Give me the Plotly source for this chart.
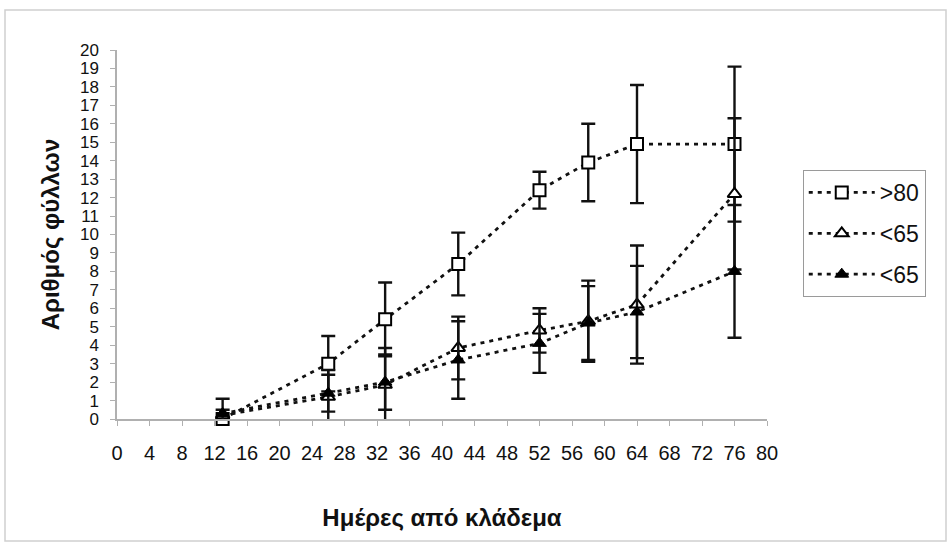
import plotly.graph_objects as go

days = [13, 26, 33, 42, 52, 58, 64, 76]

names = [">80", "<65", "<65"]

sq_y = [0.0, 3.0, 5.4, 8.4, 12.4, 13.9, 14.9, 14.9]
sq_err = [0.0, 1.5, 2.0, 1.7, 1.0, 2.1, 3.2, 4.2]

open_tri_y = [0.2, 1.2, 1.85, 3.85, 4.8, 5.3, 6.2, 12.2]
open_tri_err = [0.3, 1.45, 2.0, 1.7, 1.2, 2.2, 3.2, 4.1]

fill_tri_y = [0.3, 1.4, 2.0, 3.2, 4.1, 5.2, 5.8, 8.0]
fill_tri_err = [0.8, 1.0, 1.5, 2.1, 1.6, 2.0, 2.5, 3.6]

x_ticks = list(range(0, 81, 4))
y_ticks = list(range(0, 21, 1))

font_family = "Liberation Sans, Arial, sans-serif"
dash = "4px,5px"

series = [
    (names[0], sq_y, sq_err, dict(symbol="square", size=12, color="white",
                                  line=dict(color="black", width=2))),
    (names[1], open_tri_y, open_tri_err, dict(symbol="triangle-up", size=12, color="white",
                                              line=dict(color="black", width=2))),
    (names[2], fill_tri_y, fill_tri_err, dict(symbol="triangle-up", size=12, color="black",
                                              line=dict(color="black", width=1))),
]

fig = go.Figure()
for i, (nm, ys, errs, mk) in enumerate(series):
    fig.add_trace(go.Scatter(
        x=days, y=ys, name=nm, mode="lines+markers",
        line=dict(color="#111111", width=2.8, dash=dash),
        marker=mk,
        error_y=dict(type="data", array=errs, visible=True, color="#111111",
                     thickness=2.4, width=7),
        legendgroup=f"g{i}",
        cliponaxis=False,
    ))

fig.update_layout(
    width=948, height=543,
    margin=dict(l=117, r=181, t=50, b=124),
    paper_bgcolor="white", plot_bgcolor="white",
    font=dict(family=font_family, color="#111111", size=18),
    showlegend=True,
    legend=dict(
        x=1.055, xanchor="left", y=0.675, yanchor="top",
        bordercolor="#9a9a9a", borderwidth=1,
        font=dict(size=23, family=font_family, color="#111111"),
        tracegroupgap=8, itemwidth=66,
        bgcolor="white",
    ),
    xaxis=dict(
        range=[0, 80], tickmode="array", tickvals=x_ticks,
        ticktext=[str(v) for v in x_ticks],
        showgrid=False, zeroline=False,
        showline=True, linecolor="#b0b0b0", linewidth=1.5,
        ticks="outside", ticklen=5, tickcolor="#b0b0b0",
        tickfont=dict(size=20), ticklabelstandoff=10,
        title=dict(text="<b>Ημέρες από κλάδεμα</b>", font=dict(size=24), standoff=46),
    ),
    yaxis=dict(
        range=[0, 20], tickmode="array", tickvals=y_ticks,
        ticktext=[str(v) for v in y_ticks],
        showgrid=False, zeroline=False,
        showline=True, linecolor="#b0b0b0", linewidth=1.5,
        ticks="outside", ticklen=5, tickcolor="#b0b0b0",
        tickfont=dict(size=17), ticklabelstandoff=8,
        title=dict(text="<b>Αριθμός φύλλων</b>", font=dict(size=24), standoff=14),
    ),
    shapes=[dict(
        type="rect", xref="paper", yref="paper",
        x0=(5 - 117) / 650, x1=(946 - 117) / 650,
        y0=(419 - 541) / 369, y1=(419 - 10) / 369,
        line=dict(color="#d0d0d0", width=1.5), layer="below",
    )],
)

fig.write_html("out.html")
